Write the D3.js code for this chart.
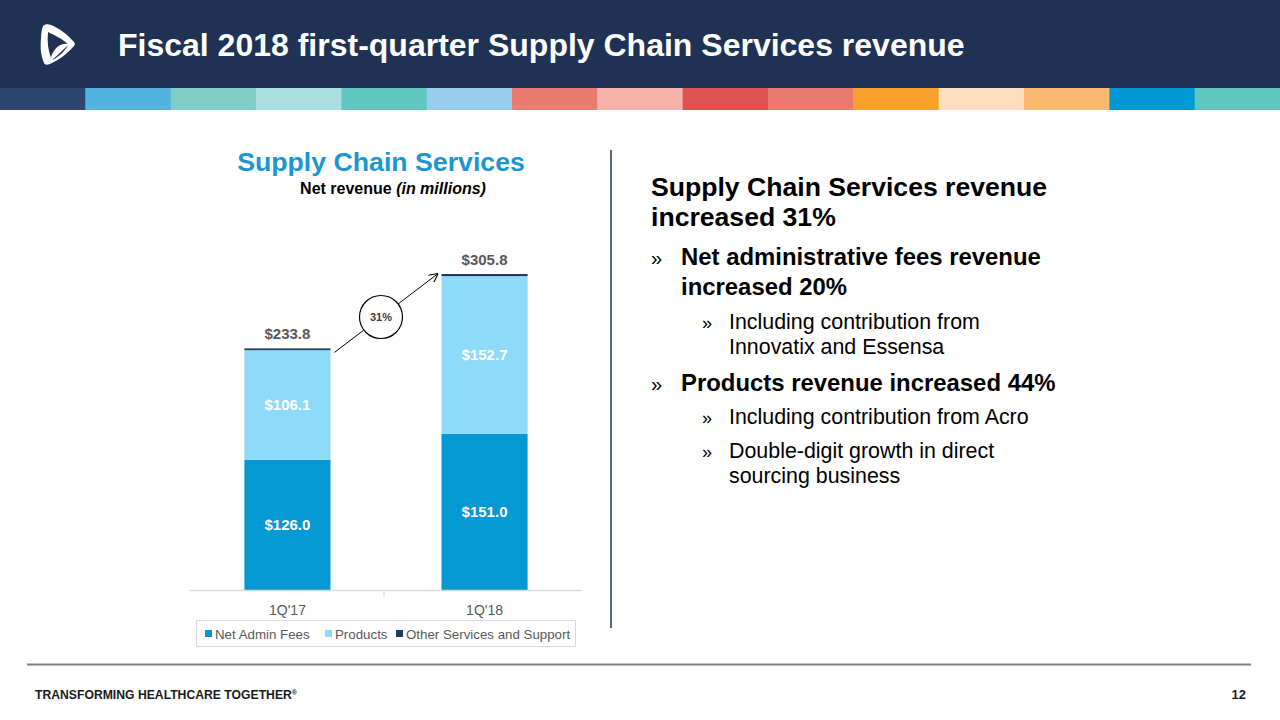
<!DOCTYPE html>
<html><head><meta charset="utf-8">
<script src="https://cdn.jsdelivr.net/npm/d3@7/dist/d3.min.js"></script>
<style>
html,body{margin:0;padding:0;background:#fff;}
svg{display:block;font-family:Arial,"Liberation Sans",sans-serif;}
</style></head>
<body><svg id="c" width="1280" height="720"></svg>
<script>
const categories = ["1Q'17", "1Q'18"];
const seriesNames = ["Net Admin Fees", "Products", "Other Services and Support"];
const netAdminFees = [126.0, 151.0];
const products = [106.1, 152.7];
const otherServices = [1.7, 2.1];
const totals = [233.8, 305.8];
const growthLabel = "31%";
const stripColors = ["#2B4570","#52B2E0","#7ECEC8","#A9DFE0","#5FC6C0","#98CDEB","#EA7B71","#F8B2AA","#DE524F","#EB7B71","#F9A12B","#FFDEBF","#FDB872","#0098D5","#5FC6C0"];
const seriesColors = ["#0598D3", "#8DDBF9", "#1F3864"];

const svg = d3.select("#c");

// header
svg.append("rect").attr("x",0).attr("y",0).attr("width",1280).attr("height",88).attr("fill","#1F3253");
const stripX = d3.scaleBand().domain(d3.range(stripColors.length)).range([0,1280]);
svg.selectAll("rect.strip").data(stripColors).join("rect").attr("class","strip")
  .attr("x",(d,i)=>stripX(i)).attr("y",88).attr("width",stripX.bandwidth()+0.5).attr("height",22).attr("fill",d=>d);

// logo
const logo = svg.append("g").attr("transform","translate(37,24)");
logo.append("path").attr("fill","#fff")
  .attr("d","M6,2 C8,0 11,0 14,1 C22,4 31,11 37,18 C38,19 38,21 37,22 C31,29 22,36 13,40 C10,41 8,41 7,39 C4,32 3,24 4,14 C4,9 5,5 6,2 Z");
logo.append("path").attr("fill","#1F3253")
  .attr("d","M11,8 C17,11 24,14 31,20 C25,19 20,22 17,27 C15,30 14,32 14,34 C11,26 10,17 11,8 Z");
logo.append("path").attr("fill","#1F3253")
  .attr("d","M31,21 C27,25 22,30 15,36 C22,33 28,27 31,21 Z");

svg.append("text").attr("x",118).attr("y",56).attr("fill","#fff").attr("font-size",32).attr("font-weight","bold")
  .text("Fiscal 2018 first-quarter Supply Chain Services revenue");

// chart titles
svg.append("text").attr("x",381).attr("y",171).attr("text-anchor","middle").attr("fill","#1C96D2")
  .attr("font-size",26.7).attr("font-weight","bold").text("Supply Chain Services");
const sub = svg.append("text").attr("x",393).attr("y",194).attr("text-anchor","middle").attr("fill","#000")
  .attr("font-size",16).attr("font-weight","bold");
sub.append("tspan").text("Net revenue ");
sub.append("tspan").attr("font-style","italic").text("(in millions)");

// chart
const x = d3.scaleBand().domain(categories).range([190,582]).paddingInner(0.563).paddingOuter(0.276);
const y = d3.scaleLinear().domain([0,305.8]).range([590,274]);
const rows = categories.map((c,i)=>({cat:c, a:netAdminFees[i], b:products[i], o:otherServices[i]}));
const stack = d3.stack().keys(["a","b","o"])(rows);
const g = svg.append("g");
stack.forEach((layer,li)=>{
  g.selectAll("rect.s"+li).data(layer).join("rect")
    .attr("x",d=>x(d.data.cat)).attr("width",x.bandwidth())
    .attr("y",d=>y(d[1])).attr("height",d=>Math.max(y(d[0])-y(d[1]),0))
    .attr("fill",seriesColors[li]);
});
// segment labels
stack.slice(0,2).forEach((layer,li)=>{
  g.selectAll("text.l"+li).data(layer).join("text")
    .attr("x",d=>x(d.data.cat)+x.bandwidth()/2).attr("y",d=>y((d[0]+d[1])/2)+5)
    .attr("text-anchor","middle").attr("fill","#fff").attr("font-size",15).attr("font-weight","bold")
    .text(d=>"$"+(d[1]-d[0]).toFixed(1));
});
g.selectAll("text.tot").data(categories).join("text")
  .attr("x",d=>x(d)+x.bandwidth()/2).attr("y",(d,i)=>y(totals[i])-9)
  .attr("text-anchor","middle").attr("fill","#595959").attr("font-size",15).attr("font-weight","bold")
  .text((d,i)=>"$"+totals[i].toFixed(1));

// axis
const ax = svg.append("g").attr("transform","translate(0,590)")
  .call(d3.axisBottom(x).tickSize(0).tickPadding(15));
ax.select(".domain").attr("stroke","#D9D9D9").attr("stroke-width",1.3).attr("d","M190,0.5H582");
ax.selectAll("text").attr("fill","#595959").attr("font-size",14).attr("font-family","Arial,'Liberation Sans',sans-serif");
ax.append("line").attr("x1",384).attr("x2",384).attr("y1",0).attr("y2",6).attr("stroke","#D9D9D9").attr("stroke-width",1.3);

// growth arrow
const x0 = x(categories[0])+x.bandwidth()+4, y0 = y(totals[0])+4;
const x1 = x(categories[1])-4, y1 = y(totals[1]);
svg.append("defs").append("marker").attr("id","arr").attr("viewBox","0 0 10 10").attr("refX",9).attr("refY",5)
  .attr("markerWidth",9).attr("markerHeight",9).attr("orient","auto").attr("markerUnits","userSpaceOnUse")
  .append("path").attr("d","M0,0 L10,5 L0,10").attr("fill","none").attr("stroke","#000").attr("stroke-width",1.2);
svg.append("line").attr("x1",x0).attr("y1",y0).attr("x2",x1).attr("y2",y1).attr("stroke","#000").attr("stroke-width",1)
  .attr("marker-end","url(#arr)");
svg.append("circle").attr("cx",381).attr("cy",317).attr("r",21.5).attr("fill","#fff").attr("stroke","#000").attr("stroke-width",1.2);
svg.append("text").attr("x",381).attr("y",321).attr("text-anchor","middle").attr("fill","#404040")
  .attr("font-size",11).attr("font-weight","bold").text(growthLabel);

// legend
svg.append("rect").attr("x",196.5).attr("y",620.5).attr("width",379).attr("height",26).attr("fill","#fff").attr("stroke","#D9D9D9");
const legX = [205, 325, 396];
const leg = svg.selectAll("g.leg").data(seriesNames).join("g").attr("class","leg")
  .attr("transform",(d,i)=>`translate(${legX[i]},634)`);
leg.append("rect").attr("x",0).attr("y",-4).attr("width",7).attr("height",7).attr("fill",(d,i)=>seriesColors[i]);
leg.append("text").attr("x",10).attr("y",5).attr("fill","#595959").attr("font-size",13.3).text(d=>d);

// divider
svg.append("line").attr("x1",611).attr("x2",611).attr("y1",150).attr("y2",628).attr("stroke","#1F3253").attr("stroke-width",1.5);

// right text
const rt = svg.append("g").attr("fill","#000");
function t(xp,yp,size,bold,str){rt.append("text").attr("x",xp).attr("y",yp).attr("font-size",size).attr("font-weight",bold?"bold":"normal").text(str);}
t(651,196,26.6,true,"Supply Chain Services revenue");
t(651,226,26.6,true,"increased 31%");
t(651,265,20,false,"»"); t(681,265,23.9,true,"Net administrative fees revenue");
t(681,295,23.9,true,"increased 20%");
t(702,329,18,false,"»"); t(729,329,21.4,false,"Including contribution from");
t(729,354,21.4,false,"Innovatix and Essensa");
t(651,391,20,false,"»"); t(681,391,23.9,true,"Products revenue increased 44%");
t(702,424,18,false,"»"); t(729,424,21.4,false,"Including contribution from Acro");
t(702,458,18,false,"»"); t(729,458,21.4,false,"Double-digit growth in direct");
t(729,483,21.4,false,"sourcing business");

// footer
svg.append("line").attr("x1",27).attr("x2",1251).attr("y1",664.5).attr("y2",664.5).attr("stroke","#7F7F7F").attr("stroke-width",2);
const ft = svg.append("text").attr("x",35).attr("y",699).attr("fill","#1a1a1a").attr("font-size",12.2).attr("font-weight","bold");
ft.append("tspan").text("TRANSFORMING HEALTHCARE TOGETHER");
ft.append("tspan").attr("font-size",7).attr("dy",-4).text("®");
svg.append("text").attr("x",1246).attr("y",699).attr("text-anchor","end").attr("fill","#1a1a1a").attr("font-size",13).attr("font-weight","bold").text("12");
</script></body></html>
